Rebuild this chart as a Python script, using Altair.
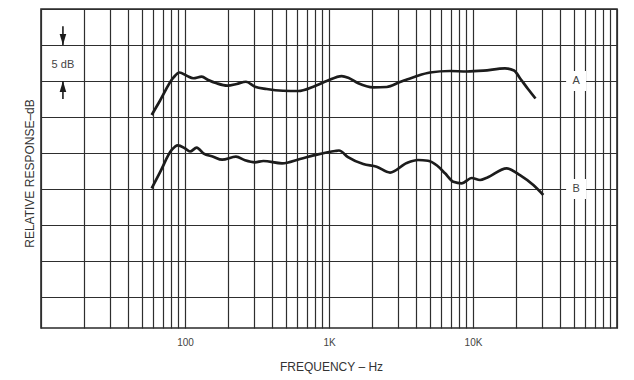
import altair as alt
import pandas as pd

# Curve A (upper) – frequency in Hz, relative response in dB
freq_a = [58.7, 67, 83, 91.6, 102.8, 114.2, 130.6, 145, 166, 196.6, 228.6, 265, 306, 369,
          479, 612, 778, 964, 1225, 1361, 1597, 2032, 2517, 3112, 3954, 5025, 6920, 9040,
          11800, 16680, 19270, 21380, 24100, 27170]
db_a = [-4.72, -2.74, 0.46, 1.18, 0.74, 0.38, 0.60, 0.14, -0.32, -0.65, -0.42, -0.10, -0.79, -1.11,
        -1.35, -1.39, -0.79, 0.0, 0.69, 0.46, -0.32, -0.88, -0.83, -0.14, 0.60, 1.18, 1.39, 1.32,
        1.43, 1.76, 1.46, 0.28, -1.11, -2.43]

# Curve B (lower)
freq_b = [58.7, 67, 80.8, 89, 100, 108.3, 120.6, 134, 157, 181, 226, 261, 306, 350, 472, 629,
          839, 1101, 1173, 1355, 1730, 2143, 2653, 3465, 4150, 4870, 5623, 6394, 7300, 8350,
          9800, 11190, 12510, 17140, 21190, 26240, 30770]
db_b = [-14.90, -12.69, -9.58, -8.93, -9.35, -9.79, -9.26, -10.04, -10.51, -10.93, -10.51, -11.01,
        -11.29, -11.11, -11.43, -10.83, -10.18, -9.72, -9.65, -10.56, -11.53, -11.90, -12.71,
        -11.39, -10.97, -11.07, -11.74, -12.82, -13.99, -14.21, -13.47, -13.75, -13.43, -12.13,
        -13.06, -14.44, -15.83]

# Axis grid values and tick labels
grid_freqs = [m * 10 ** e for e in range(1, 5) for m in range(1, 10)] + [100000]
grid_db = [-30, -25, -20, -15, -10, -5, 0, 5, 10]
tick_freqs = [100, 1000, 10000]
tick_texts = ["100", "1K", "10K"]

# Curve labels
curve_names = ["A", "B"]
curve_label_freq = [52000, 52000]
curve_label_db = [0, -15]

# "5 dB" scale marker
scale_text = "5 dB"
scale_freq = 14.2
scale_text_db = 2.2
shaft_db = [7.6, -2.5]
shaft_db2 = [5.0, 0.0]
head_down_db = 5.76
head_up_db = -0.76

label_expr = " : ".join(
    f"datum.value == {f} ? '{t}'" for f, t in zip(tick_freqs, tick_texts)
) + " : ''"

curves = pd.DataFrame({
    "freq": freq_a + freq_b,
    "db": db_a + db_b,
    "series": ["A"] * len(freq_a) + ["B"] * len(freq_b),
})
labels = pd.DataFrame({"freq": curve_label_freq, "db": curve_label_db, "name": curve_names})
shafts = pd.DataFrame({"freq": [scale_freq] * 2, "db": shaft_db, "db2": shaft_db2})
head_down = pd.DataFrame({"freq": [scale_freq], "db": [head_down_db]})
head_up = pd.DataFrame({"freq": [scale_freq], "db": [head_up_db]})
scale_lbl = pd.DataFrame({"freq": [scale_freq], "db": [scale_text_db], "t": [scale_text]})

GRID = "#2e2e2e"
INK = "#1c1c1c"
TXT = "#444444"

X = alt.X(
    "freq:Q",
    scale=alt.Scale(type="log", domain=[10, 100000], nice=False),
    axis=alt.Axis(
        values=grid_freqs, labelExpr=label_expr, ticks=False, domain=False,
        grid=True, gridColor=GRID, gridOpacity=1, gridWidth=1.2,
        labelFont="Liberation Sans", labelFontSize=10, labelColor=TXT, labelPadding=9,
        labelOverlap=False, labelFlush=False,
        title="FREQUENCY – Hz", titleFont="Liberation Sans", titleFontSize=12,
        titleFontWeight="normal", titleColor="#333333", titleX=290, titleY=38,
        titleAlign="center", titleBaseline="middle",
    ),
)
Y = alt.Y(
    "db:Q",
    scale=alt.Scale(domain=[-34.3, 10], nice=False, zero=False),
    axis=alt.Axis(
        values=grid_db, labels=False, ticks=False, domain=False,
        grid=True, gridColor=GRID, gridOpacity=1, gridWidth=1.2,
        title="RELATIVE RESPONSE–dB", titleFont="Liberation Sans", titleFontSize=12,
        titleFontWeight="normal", titleColor="#333333", titleAngle=270,
        titleX=-12, titleY=164, titleAlign="center", titleBaseline="middle",
    ),
)

lines = alt.Chart(curves).mark_line(
    color=INK, strokeWidth=2.7, interpolate="monotone"
).encode(x=X, y=Y, detail="series:N")

label_bg = alt.Chart(labels).mark_square(
    color="white", size=400, opacity=1, filled=True
).encode(x=X, y=Y)

label_txt = alt.Chart(labels).mark_text(
    font="Liberation Sans", fontSize=11, color=TXT, baseline="middle", align="center"
).encode(x=X, y=Y, text="name:N")

shaft = alt.Chart(shafts).mark_rule(color=INK, strokeWidth=1.6).encode(
    x=X, y=Y, y2=alt.Y2("db2:Q")
)
down = alt.Chart(head_down).mark_point(
    shape="M-0.6,-1L0.6,-1L0,1Z", filled=True, size=121, color=INK, opacity=1
).encode(x=X, y=Y)
up = alt.Chart(head_up).mark_point(
    shape="M-0.6,1L0.6,1L0,-1Z", filled=True, size=121, color=INK, opacity=1
).encode(x=X, y=Y)
scale_t = alt.Chart(scale_lbl).mark_text(
    font="Liberation Sans", fontSize=11, color=TXT, baseline="middle", align="center"
).encode(x=X, y=Y, text="t:N")

chart = alt.layer(lines, label_bg, label_txt, shaft, down, up, scale_t).properties(
    width=576, height=319,
    autosize=alt.AutoSizeParams(type="none"),
    padding={"left": 33, "top": 1, "right": 9, "bottom": 48},
    background="white",
).configure_view(stroke="#2a2a2a", strokeWidth=1.6)

chart.save("out.html", embed_options={"renderer": "svg", "actions": False})
